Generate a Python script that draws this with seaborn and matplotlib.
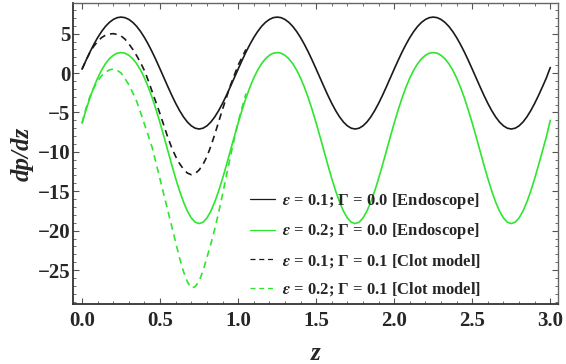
import matplotlib
matplotlib.use('Agg')
import matplotlib.pyplot as plt
from matplotlib.ticker import MultipleLocator
import numpy as np
import seaborn as sns

# values (step 0.025 in z)
z_full = np.round(np.linspace(0, 3, 121), 3)
z_clot = np.round(np.linspace(0, 1.05, 43), 3)

endo_eps01 = [0.5, 1.60, 2.65, 3.62, 4.50, 5.27, 5.92, 6.43, 6.80, 7.03,
              7.1, 7.03, 6.80, 6.43, 5.92, 5.27, 4.50, 3.62, 2.65, 1.60,
              0.5, -0.62, -1.74, -2.83, -3.85, -4.77, -5.57, -6.22, -6.70, -7.00,
              -7.1, -7.00, -6.70, -6.22, -5.57, -4.77, -3.85, -2.83, -1.74, -0.62,
              0.5, 1.60, 2.65, 3.62, 4.50, 5.27, 5.92, 6.43, 6.80, 7.03,
              7.1, 7.03, 6.80, 6.43, 5.92, 5.27, 4.50, 3.62, 2.65, 1.60,
              0.5, -0.62, -1.74, -2.83, -3.85, -4.77, -5.57, -6.22, -6.70, -7.00,
              -7.1, -7.00, -6.70, -6.22, -5.57, -4.77, -3.85, -2.83, -1.74, -0.62,
              0.5, 1.60, 2.65, 3.62, 4.50, 5.27, 5.92, 6.43, 6.80, 7.03,
              7.1, 7.03, 6.80, 6.43, 5.92, 5.27, 4.50, 3.62, 2.65, 1.60,
              0.5, -0.62, -1.74, -2.83, -3.85, -4.77, -5.57, -6.22, -6.70, -7.00,
              -7.1, -7.00, -6.70, -6.22, -5.57, -4.77, -3.85, -2.83, -1.74, -0.62,
              0.7]
endo_eps02 = [-6.35, -4.70, -3.18, -1.82, -0.63, 0.37, 1.19, 1.81, 2.25, 2.52,
              2.6, 2.52, 2.25, 1.81, 1.19, 0.37, -0.63, -1.82, -3.18, -4.70,
              -6.35, -8.09, -9.88, -11.67, -13.39, -14.97, -16.37, -17.53, -18.39, -18.93,
              -19.1, -18.93, -18.39, -17.53, -16.37, -14.97, -13.39, -11.67, -9.88, -8.09,
              -6.35, -4.70, -3.18, -1.82, -0.63, 0.37, 1.19, 1.81, 2.25, 2.52,
              2.6, 2.52, 2.25, 1.81, 1.19, 0.37, -0.63, -1.82, -3.18, -4.70,
              -6.35, -8.09, -9.88, -11.67, -13.39, -14.97, -16.37, -17.53, -18.39, -18.93,
              -19.1, -18.93, -18.39, -17.53, -16.37, -14.97, -13.39, -11.67, -9.88, -8.09,
              -6.35, -4.70, -3.18, -1.82, -0.63, 0.37, 1.19, 1.81, 2.25, 2.52,
              2.6, 2.52, 2.25, 1.81, 1.19, 0.37, -0.63, -1.82, -3.18, -4.70,
              -6.35, -8.09, -9.88, -11.67, -13.39, -14.97, -16.37, -17.53, -18.39, -18.93,
              -19.1, -18.93, -18.39, -17.53, -16.37, -14.97, -13.39, -11.67, -9.88, -8.09,
              -6.0]
clot_eps01 = [0.5, 1.6, 2.6, 3.4, 4.0, 4.5, 4.8, 4.95, 5.0, 4.9,
              4.7, 4.3, 3.7, 3.0, 2.2, 1.3, 0.3, -1.0, -2.4, -3.8,
              -5.2, -6.7, -8.2, -9.5, -10.6, -11.5, -12.2, -12.7, -12.9, -12.75,
              -12.3, -11.6, -10.6, -9.3, -7.8, -6.2, -4.6, -3.1, -1.6, -0.3,
              1.0, 2.0, 3.0]
clot_eps02 = [-6.35, -4.5, -3.0, -1.9, -1.0, -0.35, 0.1, 0.4, 0.5, 0.35,
              0.0, -0.7, -1.5, -2.5, -3.6, -5.0, -6.5, -8.0, -9.5, -11.5,
              -13.5, -15.5, -17.5, -19.5, -21.5, -23.5, -25.2, -26.5, -27.3, -27.1,
              -26.4, -25.1, -23.4, -21.7, -19.8, -17.7, -15.4, -13.0, -10.6, -8.4,
              -6.2, -4.4, -2.6]

labels = [r'$\epsilon$ = 0.1; Γ = 0.0 [Endoscope]',
          r'$\epsilon$ = 0.2; Γ = 0.0 [Endoscope]',
          r'$\epsilon$ = 0.1; Γ = 0.1 [Clot model]',
          r'$\epsilon$ = 0.2; Γ = 0.1 [Clot model]']

sns.set_style('ticks')
plt.rcParams['font.family'] = ['Liberation Serif', 'DejaVu Serif']
plt.rcParams['font.weight'] = 'bold'
plt.rcParams['mathtext.fontset'] = 'custom'
plt.rcParams['mathtext.it'] = 'STIXGeneral:italic:bold'
plt.rcParams['mathtext.rm'] = 'STIXGeneral:bold'

black = '#1a1a1a'
green = '#2ee62e'

fig = plt.figure(figsize=(5.66, 3.64), dpi=100)
ax = fig.add_axes([0.129, 0.165, 0.857, 0.827])

sns.lineplot(x=z_full, y=endo_eps01, ax=ax, color=black, lw=1.2, label=labels[0])
sns.lineplot(x=z_full, y=endo_eps02, ax=ax, color=green, lw=1.2, label=labels[1])
sns.lineplot(x=z_clot, y=clot_eps01, ax=ax, color=black, lw=1.2,
             linestyle=(0, (4, 3)), label=labels[2])
sns.lineplot(x=z_clot, y=clot_eps02, ax=ax, color=green, lw=1.2,
             linestyle=(0, (4, 3)), label=labels[3])

ax.xaxis.set_minor_locator(MultipleLocator(0.1))
ax.yaxis.set_major_locator(MultipleLocator(5))
ax.yaxis.set_minor_locator(MultipleLocator(1))
ax.set_xticks([0, 0.5, 1.0, 1.5, 2.0, 2.5, 3.0])
ax.set_xticklabels(['0.0', '0.5', '1.0', '1.5', '2.0', '2.5', '3.0'])
ax.set_xlim(-0.058, 3.05)
ax.set_ylim(-29.3, 8.9)

ax.tick_params(which='both', direction='in', top=True, right=True,
               labelsize=15, color='#555555')
ax.tick_params(which='major', length=4.5, width=0.8)
ax.tick_params(which='minor', length=2.5, width=0.6)
ax.tick_params(axis='y', pad=2)
ax.tick_params(axis='x', pad=5)
for lbl in ax.get_xticklabels() + ax.get_yticklabels():
    lbl.set_fontweight('bold')

for side in ['left', 'bottom']:
    ax.spines[side].set_color('#333333')
    ax.spines[side].set_linewidth(1.3)
for side in ['top', 'right']:
    ax.spines[side].set_color('#666666')
    ax.spines[side].set_linewidth(1.0)

ax.set_xlabel('z', fontsize=18, fontstyle='italic', fontweight='bold', labelpad=8)
ax.set_ylabel('dp/dz', fontsize=18, fontstyle='italic', fontweight='bold', labelpad=3)

leg = ax.legend(loc='upper left', bbox_to_anchor=(0.365, 0.375), frameon=False,
                fontsize=12, handlelength=1.5, handletextpad=0.4,
                labelspacing=0.62, borderaxespad=0, borderpad=0)
for line in leg.get_lines():
    line.set_linewidth(0.9)
for t in leg.get_texts():
    t.set_fontweight('bold')

plt.savefig('out.png', dpi=100)
